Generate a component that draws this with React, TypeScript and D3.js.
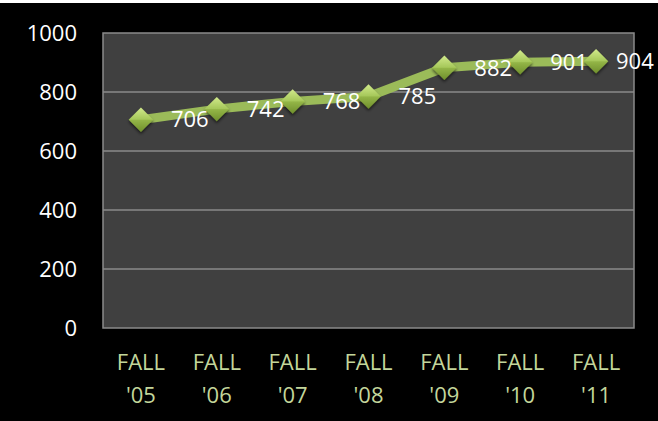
import React, { useRef, useEffect } from 'react';
import * as d3 from 'd3';

const terms = ["FALL\n'05", "FALL\n'06", "FALL\n'07", "FALL\n'08", "FALL\n'09", "FALL\n'10", "FALL\n'11"];
const enrollment = [706, 742, 768, 785, 882, 901, 904];
const yTicks = [0, 200, 400, 600, 800, 1000];

const W = 658;
const H = 421;

const App = () => {
  const svgRef = useRef<SVGSVGElement>(null);

  useEffect(() => {
    document.body.style.margin = '0';
    const svg = d3.select(svgRef.current);
    svg.selectAll('*').remove();

    const margin = { top: 33, right: 24, bottom: 93, left: 103 };
    const innerW = W - margin.left - margin.right;
    const innerH = H - margin.top - margin.bottom;
    const font = "'Open Sans', sans-serif";

    const x = d3.scaleBand().domain(terms).range([0, innerW]);
    const y = d3.scaleLinear().domain([0, 1000]).range([innerH, 0]);

    svg.append('rect').attr('width', W).attr('height', H).attr('fill', '#ffffff');
    svg.append('rect').attr('y', 3).attr('width', W).attr('height', H - 3).attr('fill', '#000000');

    const defs = svg.append('defs');
    const grad = defs.append('linearGradient')
      .attr('id', 'diamond-grad')
      .attr('x1', 0).attr('y1', 0).attr('x2', 0).attr('y2', 1);
    grad.append('stop').attr('offset', '0%').attr('stop-color', '#d2ea8c');
    grad.append('stop').attr('offset', '48%').attr('stop-color', '#a6c85a');
    grad.append('stop').attr('offset', '52%').attr('stop-color', '#93b547');
    grad.append('stop').attr('offset', '100%').attr('stop-color', '#6f8f2c');
    const shadow = defs.append('filter').attr('id', 'shadow')
      .attr('x', '-50%').attr('y', '-50%').attr('width', '200%').attr('height', '200%');
    shadow.append('feDropShadow')
      .attr('dx', 0).attr('dy', 2).attr('stdDeviation', 1.5)
      .attr('flood-color', '#000').attr('flood-opacity', 0.6);

    const g = svg.append('g').attr('transform', `translate(${margin.left},${margin.top})`);

    g.append('rect')
      .attr('width', innerW).attr('height', innerH)
      .attr('fill', '#404040')
      .attr('stroke', '#8a8a8a').attr('stroke-width', 1.5);

    // gridlines
    g.selectAll('.grid')
      .data(yTicks.filter(d => d > 0 && d < 1000))
      .enter()
      .append('line')
      .attr('x1', 0).attr('x2', innerW)
      .attr('y1', d => y(d)).attr('y2', d => y(d))
      .attr('stroke', '#8a8a8a').attr('stroke-width', 1.5);

    // y labels
    g.selectAll('.ylab')
      .data(yTicks)
      .enter()
      .append('text')
      .attr('x', -26)
      .attr('y', d => y(d))
      .attr('dy', '0.35em')
      .attr('text-anchor', 'end')
      .attr('fill', '#ffffff')
      .style('font-family', font)
      .style('font-size', '22px')
      .text(d => d);

    // x labels
    terms.forEach(t => {
      const cx = (x(t) as number) + x.bandwidth() / 2;
      t.split('\n').forEach((part, i) => {
        g.append('text')
          .attr('x', cx)
          .attr('y', innerH + 34 + i * 33)
          .attr('dy', '0.35em')
          .attr('text-anchor', 'middle')
          .attr('fill', '#c3d69b')
          .style('font-family', font)
          .style('font-size', '22px')
          .text(part);
      });
    });

    const px = (i: number) => (x(terms[i]) as number) + x.bandwidth() / 2;

    const line = d3.line<number>()
      .x((d, i) => px(i))
      .y(d => y(d));

    g.append('path')
      .datum(enrollment)
      .attr('d', line)
      .attr('fill', 'none')
      .attr('stroke', '#9bbb59')
      .attr('stroke-width', 9)
      .attr('stroke-linejoin', 'round');

    const sym = d3.symbol().type(d3.symbolDiamond2).size(380);
    g.selectAll('.pt')
      .data(enrollment)
      .enter()
      .append('path')
      .attr('d', sym)
      .attr('transform', (d, i) => `translate(${px(i)},${y(d)})`)
      .attr('fill', 'url(#diamond-grad)')
      .attr('filter', 'url(#shadow)');

    // data labels
    g.selectAll('.val')
      .data(enrollment)
      .enter()
      .append('text')
      .attr('x', (d, i) => Math.min(px(i) + 30, W - margin.left - 42))
      .attr('y', d => y(d))
      .attr('dy', '0.35em')
      .attr('fill', '#ffffff')
      .style('font-family', font)
      .style('font-size', '22px')
      .text(d => d);
  }, []);

  return (
    <svg ref={svgRef} width={W} height={H} style={{ display: 'block' }}></svg>
  );
};

export default App;
